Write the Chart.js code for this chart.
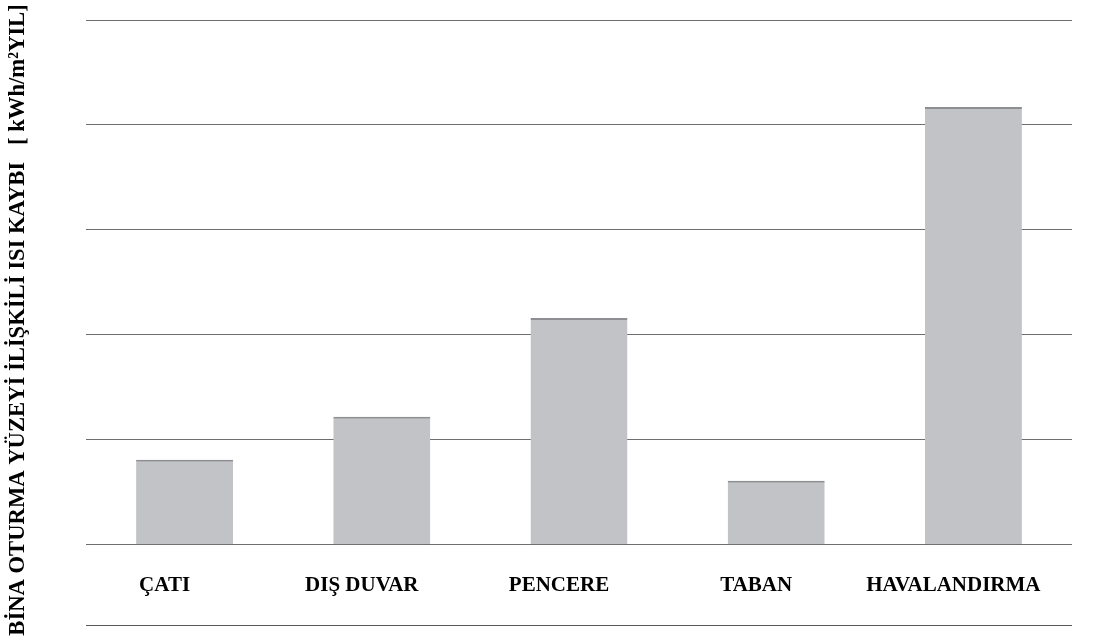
<!DOCTYPE html>
<html>
<head>
<meta charset="utf-8">
<script src="https://cdn.jsdelivr.net/npm/chart.js@4.4.1/dist/chart.umd.min.js"></script>
<style>
html,body{margin:0;padding:0;background:#fff;}
#wrap{width:1108px;height:641px;position:relative;}
</style>
</head>
<body>
<div id="wrap"><canvas id="c" width="1108" height="641"></canvas></div>
<script>
const categories = ["ÇATI", "DIŞ DUVAR", "PENCERE", "TABAN", "HAVALANDIRMA"];
const values = [16.2, 24.4, 43.2, 12.2, 83.4];
const yTitle = "BİNA OTURMA YÜZEYİ İLİŞKİLİ ISI KAYBI   [ kWh/m²YIL]";

const sideTitle = {
  id: 'sideTitle',
  afterDraw(chart) {
    const ctx = chart.ctx;
    ctx.save();
    let size = 20;
    ctx.font = 'bold ' + size + 'px "Liberation Serif", "Times New Roman", serif';
    const w = ctx.measureText(yTitle).width;
    size = size * 632 / w;
    ctx.font = 'bold ' + size + 'px "Liberation Serif", "Times New Roman", serif';
    ctx.translate(18, 320);
    ctx.rotate(-Math.PI / 2);
    ctx.fillStyle = '#000';
    ctx.textAlign = 'center';
    ctx.textBaseline = 'middle';
    ctx.fillText(yTitle, 0, 0);
    ctx.restore();
    const a = chart.chartArea;
    ctx.save();
    ctx.strokeStyle = '#5a5a5a';
    ctx.lineWidth = 1;
    ctx.beginPath();
    ctx.moveTo(a.left, 625.5);
    ctx.lineTo(a.right, 625.5);
    ctx.stroke();
    ctx.restore();
  }
};

new Chart(document.getElementById('c'), {
  type: 'bar',
  data: {
    labels: categories,
    datasets: [{
      data: values,
      backgroundColor: '#c2c3c6',
      borderColor: '#8d8e91',
      borderWidth: {top: 2, left: 0, right: 0, bottom: 0},
      borderSkipped: false,
      barPercentage: 0.6,
      categoryPercentage: 0.82
    }]
  },
  options: {
    responsive: false,
    animation: false,
    layout: {padding: {left: 86, right: 36, top: 20, bottom: 15}},
    plugins: {legend: {display: false}, tooltip: {enabled: false}, title: {display: false}},
    scales: {
      x: {
        grid: {display: false, drawTicks: false},
        border: {display: false},
        ticks: {
          color: '#000',
          padding: 28,
          labelOffset: -20,
          maxRotation: 0,
          autoSkip: false,
          font: {family: '"Liberation Serif", "Times New Roman", serif', size: 21, weight: 'bold'}
        }
      },
      y: {
        min: 0,
        max: 100,
        ticks: {display: false, stepSize: 20},
        grid: {color: '#6e6e6e', lineWidth: 1, drawTicks: false},
        border: {display: false}
      }
    }
  },
  plugins: [sideTitle]
});
</script>
</body>
</html>
